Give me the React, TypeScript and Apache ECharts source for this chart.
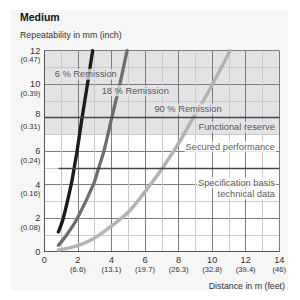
import React, { useEffect, useRef } from "react";
import * as echarts from "echarts";

// Repeatability curves (distance in m, repeatability in mm)
const dist6 = [0.84, 1.13, 1.6, 1.78, 1.95, 2.25, 2.57, 2.88];
const rep6 = [1.18, 2.0, 4.0, 5.0, 6.0, 8.0, 10.0, 12.0];

const dist18 = [0.84, 1.33, 1.97, 2.92, 3.24, 3.55, 4.02, 4.5, 4.93];
const rep18 = [0.38, 1.0, 2.0, 4.0, 5.0, 6.0, 8.0, 10.0, 12.0];

const dist90 = [0.84, 2.0, 3.0, 3.9, 5.0, 5.7, 6.89, 7.68, 8.2, 8.7, 9.3, 10.0, 11.06];
const rep90 = [0.1, 0.36, 0.82, 1.45, 2.35, 3.19, 4.78, 5.97, 6.8, 7.7, 8.7, 9.95, 12.0];

// Secondary unit labels for the even ticks
const feetLabels = ["", "6.6", "13.1", "19.7", "26.3", "32.8", "39.4", "46"];
const inchLabels = ["", "0.08", "0.16", "0.24", "0.31", "0.39", "0.47"];

// Threshold levels (mm)
const reserveFrom = 7;
const reserveLine = 8;
const securedLine = 5;
const securedStart = 0.84;

const FONT = "Liberation Sans, Arial, sans-serif";
const BAND = "#e3e3e6";
const WHITE = "#ffffff";

const notes = [
  { text: "6 % Remission", x: 2.47, y: 10.6, align: "center", bg: BAND },
  { text: "18 % Remission", x: 5.42, y: 9.61, align: "center", bg: BAND },
  { text: "90 % Remission", x: 8.56, y: 8.52, align: "center", bg: BAND },
  { text: "Functional reserve", x: 13.8, y: 7.43, align: "right", bg: BAND },
  { text: "Secured performance", x: 13.8, y: 6.27, align: "right", bg: WHITE },
  { text: "Specification basis", x: 13.8, y: 4.12, align: "right", bg: WHITE },
  { text: "technical data", x: 13.8, y: 3.44, align: "right", bg: WHITE },
];

const zip = (xs: number[], ys: number[]) => xs.map((x, i) => [x, ys[i]]);

export default function App() {
  const ref = useRef<HTMLDivElement>(null);

  useEffect(() => {
    if (!ref.current) return;
    const chart = echarts.init(ref.current, undefined, { renderer: "svg" });

    const bandColors: string[] = [];
    for (let i = 0; i < 12; i++) bandColors.push(i >= reserveFrom ? BAND : WHITE);

    const curve = (name: string, data: number[][], color: string, width: number, extra: any = {}) => ({
      name,
      type: "line",
      data,
      smooth: 0.35,
      symbol: "none",
      z: 2,
      lineStyle: { color, width, cap: "round" },
      ...extra,
    });

    chart.setOption({
      animation: false,
      textStyle: { fontFamily: FONT },
      graphic: [
        {
          type: "rect",
          z: -10,
          silent: true,
          shape: { x: 11, y: 10, width: 277, height: 280 },
          style: { fill: "#f6f6f6" },
        },
        {
          type: "text",
          x: 20,
          y: 17,
          style: {
            text: "Medium",
            font: `bold 10.5px ${FONT}`,
            fill: "#111",
            textVerticalAlign: "middle",
            verticalAlign: "middle",
          },
        },
        {
          type: "text",
          x: 20,
          y: 35,
          style: {
            text: "Repeatability in mm (inch)",
            font: `8.8px ${FONT}`,
            fill: "#333",
            textVerticalAlign: "middle",
            verticalAlign: "middle",
          },
        },
        {
          type: "text",
          x: 285,
          y: 285.5,
          style: {
            text: "Distance in m (feet)",
            font: `8.8px ${FONT}`,
            fill: "#333",
            textAlign: "right",
            align: "right",
            textVerticalAlign: "middle",
            verticalAlign: "middle",
          },
        },
      ],
      grid: { left: 44.3, right: 20.7, top: 50.7, bottom: 48.3, show: false },
      xAxis: {
        type: "value",
        min: 0,
        max: 14,
        interval: 1,
        axisLine: { show: true, lineStyle: { color: "#555", width: 1 } },
        axisTick: { show: false },
        splitLine: { show: true, lineStyle: { color: ["#7c7c7c", "#cacaca"], width: 1 } },
        axisLabel: {
          margin: 3,
          formatter: (v: number) =>
            v % 2 ? "" : v === 0 ? "{n|0}" : `{n|${v}}\n{f|(${feetLabels[v / 2]})}`,
          rich: {
            n: { fontSize: 9.2, lineHeight: 10, color: "#333", fontFamily: FONT },
            f: { fontSize: 7.6, lineHeight: 10, color: "#333", fontFamily: FONT },
          },
        },
      },
      yAxis: [
        {
          type: "value",
          min: 0,
          max: 12,
          interval: 1,
          axisLine: { show: true, lineStyle: { color: "#555", width: 1 } },
          axisTick: { show: false },
          splitLine: { show: true, lineStyle: { color: ["#7c7c7c", "#cacaca"], width: 1 } },
          splitArea: { show: true, areaStyle: { color: bandColors } },
          axisLabel: {
            margin: 4,
            formatter: (v: number) => (v % 2 ? "" : v === 8 ? "{u|8}" : `{n|${v}}`),
            rich: {
              n: { fontSize: 9.2, color: "#333", fontFamily: FONT },
              u: { fontSize: 9.2, color: "#333", fontFamily: FONT, padding: [0, 0, 8, 0] },
            },
          },
        },
        {
          type: "value",
          min: 0,
          max: 12,
          interval: 1,
          position: "left",
          axisLine: { show: false },
          axisTick: { show: false },
          splitLine: { show: false },
          splitArea: { show: false },
          axisLabel: {
            margin: 4,
            verticalAlign: "top",
            padding: [5, 0, 0, 0],
            fontSize: 7.6,
            color: "#333",
            fontFamily: FONT,
            formatter: (v: number) => (v % 2 || v === 0 ? "" : `(${inchLabels[v / 2]})`),
          },
        },
      ],
      series: [
        curve("90 % Remission", zip(dist90, rep90), "#b3b3b3", 3.5, {
          markLine: {
            silent: true,
            symbol: "none",
            label: { show: false },
            lineStyle: { color: "#454545", width: 1.3, type: "solid" },
            data: [
              { yAxis: reserveLine },
              [{ coord: [securedStart, securedLine] }, { coord: [14, securedLine] }],
            ],
          },
        }),
        curve("18 % Remission", zip(dist18, rep18), "#6e6e6e", 3.3),
        curve("6 % Remission", zip(dist6, rep6), "#1c1c1c", 3.4),
        {
          type: "scatter",
          z: 5,
          symbolSize: 0,
          silent: true,
          data: notes.map((n) => ({
            value: [n.x, n.y],
            label: {
              show: true,
              position: "inside",
              formatter: n.text,
              align: n.align,
              verticalAlign: "middle",
              backgroundColor: n.bg,
              padding: [1, 1],
              fontSize: 9.3,
              fontFamily: FONT,
              color: "#2a2a2a",
            },
          })),
        },
      ],
    });

    return () => chart.dispose();
  }, []);

  return (
    <div
      ref={ref}
      style={{ position: "fixed", left: 0, top: 0, width: 300, height: 300, background: "#fff" }}
    />
  );
}
